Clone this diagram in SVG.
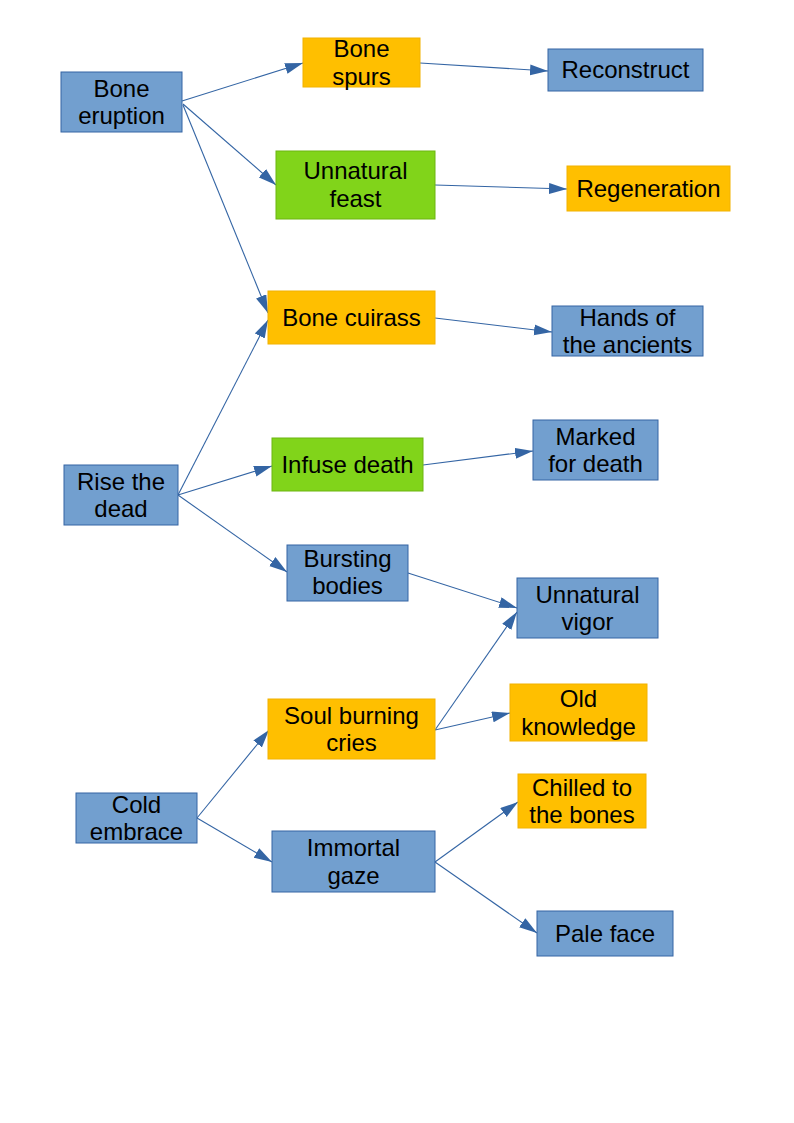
<svg xmlns="http://www.w3.org/2000/svg" width="794" height="1123" viewBox="0 0 794 1123">
  <style>
    .blue rect { fill: #729fcf; stroke: #3465a4; stroke-width: 1; }
    .gold rect { fill: #ffbf00; stroke: #f2b200; stroke-width: 1; }
    .green rect { fill: #81d41a; stroke: #6cb511; stroke-width: 1; }
    text { font-family: "Liberation Sans", Arial, sans-serif; font-size: 24px; fill: #000; text-anchor: middle; }
    #connectors line { stroke: #3465a4; stroke-width: 1.1; fill: none; marker-end: url(#arrow); }
  </style>
  <defs>
    <marker id="arrow" markerUnits="userSpaceOnUse" markerWidth="19" markerHeight="12" refX="18" refY="5.5" orient="auto">
      <path d="M0,0 L18,5.5 L0,11 z" fill="#3465a4"/>
    </marker>
  </defs>
  <rect width="794" height="1123" fill="#ffffff"/>

  <g id="connectors">
    <line x1="182" y1="101" x2="303" y2="63"/>
    <line x1="183" y1="104" x2="276" y2="185"/>
    <line x1="183" y1="105" x2="268" y2="313"/>
    <line x1="420" y1="63" x2="548" y2="71"/>
    <line x1="435" y1="185" x2="567" y2="189"/>
    <line x1="435" y1="318" x2="552" y2="332"/>
    <line x1="178" y1="495" x2="268" y2="320"/>
    <line x1="178" y1="495" x2="272" y2="466"/>
    <line x1="178" y1="495" x2="287" y2="572"/>
    <line x1="423" y1="465" x2="533" y2="451"/>
    <line x1="408" y1="573" x2="517" y2="608"/>
    <line x1="435" y1="730" x2="517" y2="612"/>
    <line x1="435" y1="730" x2="510" y2="713"/>
    <line x1="197" y1="818" x2="269" y2="730"/>
    <line x1="197" y1="818" x2="272" y2="862"/>
    <line x1="435" y1="862" x2="518" y2="802"/>
    <line x1="435" y1="862" x2="537" y2="933"/>
  </g>

  <g id="bone-eruption" class="blue">
    <rect x="61" y="72" width="121" height="60"/>
    <text x="121.5" y="96.6">Bone</text>
    <text x="121.5" y="124.2">eruption</text>
  </g>
  <g id="bone-spurs" class="gold">
    <rect x="303" y="38" width="117" height="49"/>
    <text x="361.5" y="57">Bone</text>
    <text x="361.5" y="84.6">spurs</text>
  </g>
  <g id="reconstruct" class="blue">
    <rect x="548" y="49" width="155" height="42"/>
    <text x="625.5" y="78.4">Reconstruct</text>
  </g>
  <g id="unnatural-feast" class="green">
    <rect x="276" y="151" width="159" height="68"/>
    <text x="355.5" y="179.4">Unnatural</text>
    <text x="355.5" y="207">feast</text>
  </g>
  <g id="regeneration" class="gold">
    <rect x="567" y="166" width="163" height="45"/>
    <text x="648.5" y="196.9">Regeneration</text>
  </g>
  <g id="bone-cuirass" class="gold">
    <rect x="268" y="291" width="167" height="53"/>
    <text x="351.5" y="325.9">Bone cuirass</text>
  </g>
  <g id="hands-of-the-ancients" class="blue">
    <rect x="552" y="306" width="151" height="50"/>
    <text x="627.5" y="325.6">Hands of</text>
    <text x="627.5" y="353.2">the ancients</text>
  </g>
  <g id="infuse-death" class="green">
    <rect x="272" y="438" width="151" height="53"/>
    <text x="347.5" y="472.9">Infuse death</text>
  </g>
  <g id="marked-for-death" class="blue">
    <rect x="533" y="420" width="125" height="60"/>
    <text x="595.5" y="444.6">Marked</text>
    <text x="595.5" y="472.2">for death</text>
  </g>
  <g id="rise-the-dead" class="blue">
    <rect x="64" y="465" width="114" height="60"/>
    <text x="121" y="489.6">Rise the</text>
    <text x="121" y="517.2">dead</text>
  </g>
  <g id="bursting-bodies" class="blue">
    <rect x="287" y="545" width="121" height="56"/>
    <text x="347.5" y="566.6">Bursting</text>
    <text x="347.5" y="594.2">bodies</text>
  </g>
  <g id="unnatural-vigor" class="blue">
    <rect x="517" y="578" width="141" height="60"/>
    <text x="587.5" y="602.6">Unnatural</text>
    <text x="587.5" y="630.2">vigor</text>
  </g>
  <g id="soul-burning-cries" class="gold">
    <rect x="268" y="699" width="167" height="60"/>
    <text x="351.5" y="723.6">Soul burning</text>
    <text x="351.5" y="751.2">cries</text>
  </g>
  <g id="old-knowledge" class="gold">
    <rect x="510" y="684" width="137" height="57"/>
    <text x="578.5" y="707.1">Old</text>
    <text x="578.5" y="734.7">knowledge</text>
  </g>
  <g id="chilled-to-the-bones" class="gold">
    <rect x="518" y="774" width="128" height="54"/>
    <text x="582" y="795.6">Chilled to</text>
    <text x="582" y="823.2">the bones</text>
  </g>
  <g id="cold-embrace" class="blue">
    <rect x="76" y="793" width="121" height="50"/>
    <text x="136.5" y="812.6">Cold</text>
    <text x="136.5" y="840.2">embrace</text>
  </g>
  <g id="immortal-gaze" class="blue">
    <rect x="272" y="831" width="163" height="61"/>
    <text x="353.5" y="856.1">Immortal</text>
    <text x="353.5" y="883.7">gaze</text>
  </g>
  <g id="pale-face" class="blue">
    <rect x="537" y="911" width="136" height="45"/>
    <text x="605" y="941.9">Pale face</text>
  </g>
</svg>
